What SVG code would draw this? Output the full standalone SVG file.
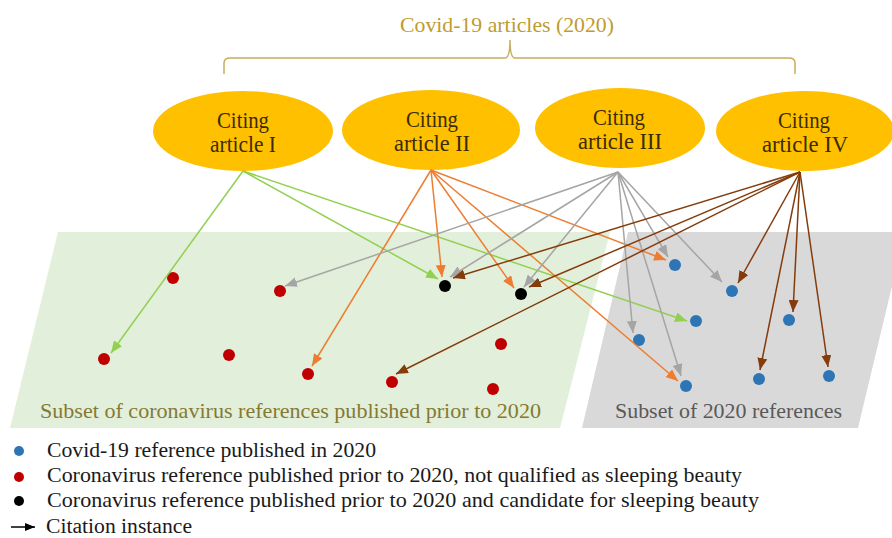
<svg xmlns="http://www.w3.org/2000/svg" width="892" height="538" viewBox="0 0 892 538">
<defs>
<style>
text{font-family:"Liberation Serif","DejaVu Serif",serif;}
.title{font-size:21px;fill:#BF9B30;}
.node ellipse{fill:#FFC000;}
.node text{font-size:23px;fill:#3A2C00;text-anchor:middle;}
.lbl{font-size:21.5px;}
.leg{font-size:21px;fill:#1a1a1a;}
.g{stroke:#92D050;}
.o{stroke:#ED7D31;}
.y{stroke:#A5A5A5;}
.b{stroke:#843C0C;}
#connectors line{stroke-width:1.5;fill:none;}
.red{fill:#C00000;}
.blue{fill:#2E75B6;}
.blk{fill:#000;}
</style>
<marker id="mg" markerUnits="userSpaceOnUse" markerWidth="12" markerHeight="10" refX="12" refY="5" orient="auto"><path d="M0,0 L12,5 L0,10 z" fill="#92D050"/></marker>
<marker id="mo" markerUnits="userSpaceOnUse" markerWidth="12" markerHeight="10" refX="12" refY="5" orient="auto"><path d="M0,0 L12,5 L0,10 z" fill="#ED7D31"/></marker>
<marker id="my" markerUnits="userSpaceOnUse" markerWidth="12" markerHeight="10" refX="12" refY="5" orient="auto"><path d="M0,0 L12,5 L0,10 z" fill="#A5A5A5"/></marker>
<marker id="mb" markerUnits="userSpaceOnUse" markerWidth="12" markerHeight="10" refX="12" refY="5" orient="auto"><path d="M0,0 L12,5 L0,10 z" fill="#843C0C"/></marker>
<marker id="mk" markerUnits="userSpaceOnUse" markerWidth="10" markerHeight="8" refX="10" refY="4" orient="auto"><path d="M0,0 L10,4 L0,8 z" fill="#000"/></marker>
</defs>
<rect width="892" height="538" fill="#fff"/>

<!-- title and brace -->
<text class="title" x="507" y="32" text-anchor="middle" textLength="214" lengthAdjust="spacingAndGlyphs">Covid-19 articles (2020)</text>
<path d="M224,74 L224,63 Q224,58 230,58 L505,58 Q510,58 510,40 Q510,58 515,58 L789,58 Q795,58 795,63 L795,74" fill="none" stroke="#C7AD5C" stroke-width="1.5"/>

<!-- panels -->
<polygon points="58,232 610,232 560,428 10,428" fill="#E2EFDA"/>
<polygon points="628,232 905,232 858,428 582,428" fill="#D9D9D9"/>
<text class="lbl" x="40" y="418" fill="#857A33" textLength="501" lengthAdjust="spacingAndGlyphs">Subset of coronavirus references published prior to 2020</text>
<text class="lbl" x="615" y="418" fill="#595959" textLength="227" lengthAdjust="spacingAndGlyphs">Subset of 2020 references</text>

<!-- citing articles -->
<g id="citing-I" class="node"><ellipse cx="243" cy="131" rx="90" ry="40"/><text x="243" y="128" textLength="52" lengthAdjust="spacingAndGlyphs">Citing</text><text x="243" y="152" textLength="66" lengthAdjust="spacingAndGlyphs">article I</text></g>
<g id="citing-II" class="node"><ellipse cx="431" cy="130" rx="89" ry="40"/><text x="432" y="127" textLength="52" lengthAdjust="spacingAndGlyphs">Citing</text><text x="432" y="151" textLength="76" lengthAdjust="spacingAndGlyphs">article II</text></g>
<g id="citing-III" class="node"><ellipse cx="620" cy="128" rx="85" ry="40"/><text x="619" y="125" textLength="52" lengthAdjust="spacingAndGlyphs">Citing</text><text x="620" y="149" textLength="84" lengthAdjust="spacingAndGlyphs">article III</text></g>
<g id="citing-IV" class="node"><ellipse cx="805" cy="131" rx="89" ry="40"/><text x="804" y="128" textLength="52" lengthAdjust="spacingAndGlyphs">Citing</text><text x="805" y="152" textLength="86" lengthAdjust="spacingAndGlyphs">article IV</text></g>

<!-- references -->
<g id="ref-r1"><circle class="red" cx="173" cy="278" r="6"/></g>
<g id="ref-r2"><circle class="red" cx="280" cy="291" r="6"/></g>
<g id="ref-r3"><circle class="red" cx="104" cy="359" r="6"/></g>
<g id="ref-r4"><circle class="red" cx="229" cy="355" r="6"/></g>
<g id="ref-r5"><circle class="red" cx="308" cy="374" r="6"/></g>
<g id="ref-r6"><circle class="red" cx="392" cy="382" r="6"/></g>
<g id="ref-r7"><circle class="red" cx="501" cy="344" r="6"/></g>
<g id="ref-r8"><circle class="red" cx="493" cy="389" r="6"/></g>
<g id="ref-k1"><circle class="blk" cx="445" cy="286" r="6"/></g>
<g id="ref-k2"><circle class="blk" cx="521" cy="294" r="6"/></g>
<g id="ref-b1"><circle class="blue" cx="675" cy="265" r="6"/></g>
<g id="ref-b2"><circle class="blue" cx="732" cy="291" r="6"/></g>
<g id="ref-b3"><circle class="blue" cx="696" cy="321" r="6"/></g>
<g id="ref-b4"><circle class="blue" cx="639" cy="340" r="6"/></g>
<g id="ref-b5"><circle class="blue" cx="789" cy="320" r="6"/></g>
<g id="ref-b6"><circle class="blue" cx="686" cy="386" r="6"/></g>
<g id="ref-b7"><circle class="blue" cx="759" cy="379" r="6"/></g>
<g id="ref-b8"><circle class="blue" cx="829" cy="376" r="6"/></g>

<!-- connectors -->
<g id="connectors">
<line class="g" x1="243" y1="171" x2="111" y2="353" marker-end="url(#mg)"/>
<line class="g" x1="243" y1="171" x2="438" y2="279" marker-end="url(#mg)"/>
<line class="g" x1="243" y1="171" x2="687" y2="321" marker-end="url(#mg)"/>
<line class="o" x1="431" y1="170" x2="312" y2="366" marker-end="url(#mo)"/>
<line class="o" x1="431" y1="170" x2="442" y2="277" marker-end="url(#mo)"/>
<line class="o" x1="431" y1="170" x2="514" y2="288" marker-end="url(#mo)"/>
<line class="o" x1="431" y1="170" x2="666" y2="260" marker-end="url(#mo)"/>
<line class="o" x1="431" y1="170" x2="678" y2="381" marker-end="url(#mo)"/>
<line class="y" x1="618" y1="172" x2="285" y2="286" marker-end="url(#my)"/>
<line class="y" x1="618" y1="172" x2="450" y2="277" marker-end="url(#my)"/>
<line class="y" x1="618" y1="172" x2="524" y2="287" marker-end="url(#my)"/>
<line class="y" x1="618" y1="172" x2="668" y2="257" marker-end="url(#my)"/>
<line class="y" x1="618" y1="172" x2="722" y2="282" marker-end="url(#my)"/>
<line class="y" x1="618" y1="172" x2="633" y2="333" marker-end="url(#my)"/>
<line class="y" x1="618" y1="172" x2="681" y2="376" marker-end="url(#my)"/>
<line class="b" x1="800" y1="172" x2="453" y2="278" marker-end="url(#mb)"/>
<line class="b" x1="800" y1="172" x2="529" y2="287" marker-end="url(#mb)"/>
<line class="b" x1="800" y1="172" x2="396" y2="374" marker-end="url(#mb)"/>
<line class="b" x1="800" y1="172" x2="738" y2="283" marker-end="url(#mb)"/>
<line class="b" x1="800" y1="172" x2="793" y2="312" marker-end="url(#mb)"/>
<line class="b" x1="800" y1="172" x2="760" y2="370" marker-end="url(#mb)"/>
<line class="b" x1="800" y1="172" x2="828" y2="367" marker-end="url(#mb)"/>
</g>

<!-- legend -->
<g id="legend">
<circle class="blue" cx="19" cy="451" r="5"/>
<text class="leg" x="47" y="457" textLength="329" lengthAdjust="spacingAndGlyphs">Covid-19 reference published in 2020</text>
<circle class="red" cx="19" cy="477" r="5"/>
<text class="leg" x="47" y="482" textLength="695" lengthAdjust="spacingAndGlyphs">Coronavirus reference published prior to 2020, not qualified as sleeping beauty</text>
<circle class="blk" cx="19" cy="501" r="5"/>
<text class="leg" x="47" y="507" textLength="712" lengthAdjust="spacingAndGlyphs">Coronavirus reference published prior to 2020 and candidate for sleeping beauty</text>
<line x1="11" y1="527" x2="35" y2="527" stroke="#000" stroke-width="1.5" marker-end="url(#mk)"/>
<text class="leg" x="46" y="533" textLength="146" lengthAdjust="spacingAndGlyphs" style="font-size:20px">Citation instance</text>
</g>
</svg>
